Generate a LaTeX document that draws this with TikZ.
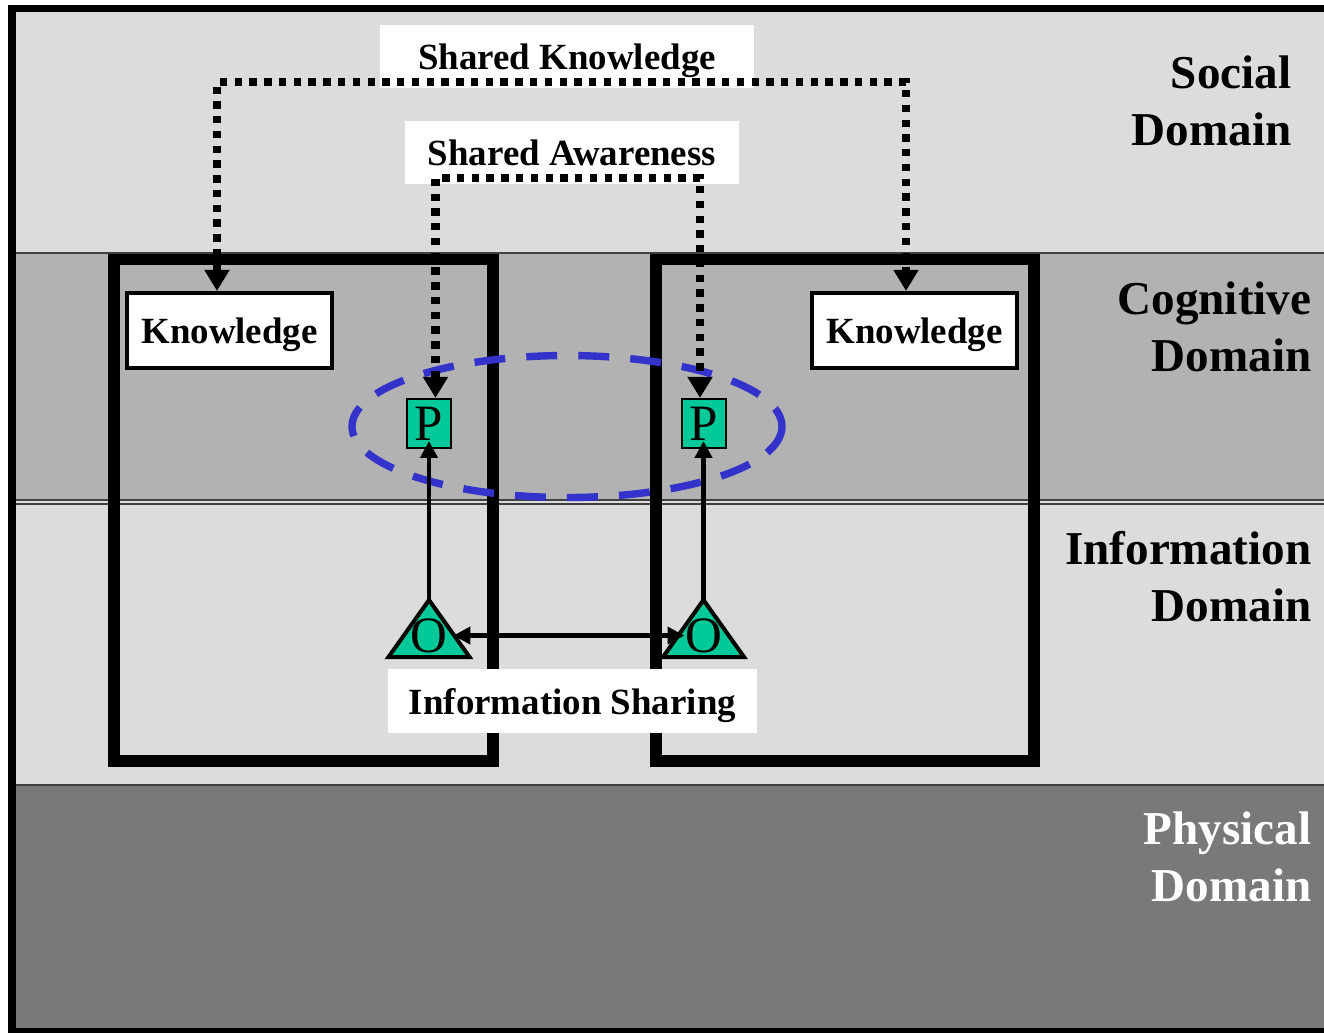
\documentclass[tikz,border=0pt]{standalone}
\usepackage{fontspec}
\setmainfont{Liberation Serif}
\usepackage{tikz}
\usetikzlibrary{arrows.meta}

\definecolor{lightband}{HTML}{DCDCDC}
\definecolor{midband}{HTML}{B2B2B2}
\definecolor{darkband}{HTML}{797979}
\definecolor{agentgreen}{HTML}{00C999}
\definecolor{awareblue}{HTML}{3333CC}

\begin{document}
\begin{tikzpicture}[x=0.01cm, y=-0.01cm,
  domaintext/.style={anchor=north east, align=right, inner sep=0pt, font=\fontsize{13.4}{16.2}\selectfont\bfseries},
  sharebox/.style={fill=white, inner sep=0pt, text depth=0pt, font=\fontsize{10.5}{12.6}\selectfont\bfseries},
  know/.style={draw=black, line width=1.15pt, fill=white, minimum width=2.05cm, minimum height=0.75cm, inner sep=0pt, text depth=0pt, font=\fontsize{10.5}{12.6}\selectfont\bfseries},
  pnode/.style={draw=black, line width=0.6pt, fill=agentgreen, minimum width=0.44cm, minimum height=0.49cm, inner sep=0pt, font=\fontsize{14.5}{17}\selectfont},
  onode/.style={inner sep=0pt, font=\fontsize{14.5}{17}\selectfont},
  tri/.style={draw=black, line width=1.15pt, fill=agentgreen, line join=miter},
  agent/.style={draw=black, line width=3.4pt},
  band/.style={draw=black!75, line width=0.4pt},
  aware/.style={draw=awareblue, line width=2.1pt, dash pattern=on 8.8pt off 6pt},
  dotlink/.style={line width=2.4pt, dash pattern=on 2.1pt off 2.1pt, {Triangle[length=6pt,width=6.8pt]}-{Triangle[length=6pt,width=6.8pt]}},
  obsarrow/.style={line width=1.3pt, -{Triangle[length=4.8pt,width=4.8pt]}},
  linkarrow/.style={line width=1.3pt, {Triangle[length=4.8pt,width=4.8pt]}-{Triangle[length=4.8pt,width=4.8pt]}}]

\useasboundingbox (0,0) rectangle (1324,1032);

% domain bands
\fill[lightband] (12,8) rectangle (1340,1032);
\filldraw[band, fill=midband] (12,253) rectangle (1340,500);
\draw[band] (12,504) -- (1340,504);
\filldraw[band, fill=darkband] (12,785) rectangle (1340,1040);
\draw[line width=2.2pt] (1340,8.5) -- (12,8.5) -- (12,1032) -- (1340,1032);

\node[domaintext] (social) at (1292,55) {Social\\Domain};
\node[domaintext] (cognitive) at (1312,281) {Cognitive\\Domain};
\node[domaintext] (information) at (1312,531) {Information\\Domain};
\node[domaintext, text=white] (physical) at (1312,811) {Physical\\Domain};

% agents
\draw[agent] (114,259.5) rectangle (493,761);
\draw[agent] (656,259.5) rectangle (1034,761);

\draw[aware] (567,426.5) ellipse [x radius=215, y radius=71];

\node[know] (kn1) at (229.5,330.5) {Knowledge};
\node[know] (kn2) at (914.5,330.5) {Knowledge};

\node[pnode] (p1) at (429,423.5) {P};
\node[pnode] (p2) at (704,423.5) {P};

\draw[tri] (429,600) coordinate (t1) -- (469.5,657) -- (388.5,657) -- cycle;
\draw[tri] (703.5,600) coordinate (t2) -- (744,657) -- (663,657) -- cycle;
\node[onode] (o1) at (429,635.5) {O};
\node[onode] (o2) at (703.5,635.5) {O};

% labels
\node[sharebox, minimum width=3.74cm, minimum height=0.63cm] (sk) at (567,56.5) {Shared Knowledge};
\node[sharebox, minimum width=3.34cm, minimum height=0.63cm] (sa) at (572,152.5) {Shared Awareness};
\node[sharebox, minimum width=3.69cm, minimum height=0.64cm] (is) at (572.5,701) {Information Sharing};

% links
\coordinate (skL) at (217,82);
\coordinate (skR) at (906,82);
\coordinate (saL) at (435.5,178);
\coordinate (saR) at (700,178);
\draw[dotlink] (kn1.north -| skL) -- (skL) -- (skR) -- (kn2.north -| skR);
\draw[dotlink] (p1.north -| saL) -- (saL) -- (saR) -- (p2.north -| saR);

\draw[obsarrow, shorten >=-2.3pt] (t1) -- (t1 |- p1.south);
\draw[obsarrow, shorten >=-2.3pt] (t2) -- (t2 |- p2.south);
\draw[linkarrow, shorten <=1.5pt] (o1.east) -- (o2.west);

\end{tikzpicture}
\end{document}
